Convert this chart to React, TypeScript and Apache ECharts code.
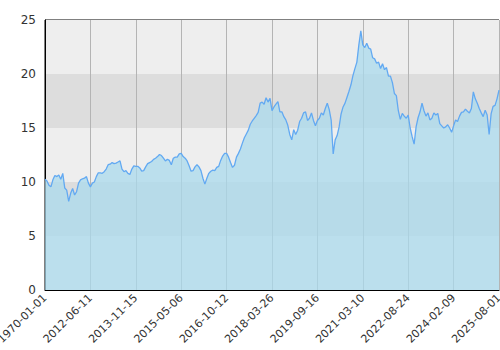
import React, { useEffect, useRef } from "react";
import * as echarts from "echarts";

const tickLabels = [
  "1970-01-01", "2012-06-11", "2013-11-15", "2015-05-06", "2016-10-12", "2018-03-26",
  "2019-09-16", "2021-03-10", "2022-08-24", "2024-02-09", "2025-08-01",
];

const labelStep = 23;

const values = [
  10.25, 10.1, 9.7, 9.55, 10.2, 10.6, 10.5, 10.65, 10.25, 10.8,
  9.45, 9.25, 8.2, 8.95, 9.4, 8.8, 9.1, 9.9, 10.2, 10.3,
  10.35, 10.5, 9.9, 9.55, 9.9, 10.0, 10.5, 10.85, 10.85, 10.8,
  10.95, 11.2, 11.6, 11.65, 11.8, 11.7, 11.75, 11.85, 11.95, 11.2,
  10.95, 11.05, 10.8, 10.7, 11.2, 11.5, 11.45, 11.45, 11.3, 11.0,
  11.05, 11.4, 11.7, 11.8, 11.9, 12.1, 12.2, 12.35, 12.55, 12.45,
  12.2, 11.95, 12.1, 12.0, 11.6, 12.2, 12.3, 12.3, 12.6, 12.65,
  12.35, 12.2, 11.95, 11.5, 11.0, 11.05, 11.4, 11.6, 11.4, 11.05,
  10.35, 9.8, 10.35, 10.8, 11.0, 11.1, 11.05, 11.35, 11.45, 12.0,
  12.4, 12.65, 12.65, 12.3, 11.8, 11.35, 11.55, 12.3, 12.65, 13.05,
  13.6, 14.1, 14.45, 14.8, 15.35, 15.65, 15.9, 16.15, 16.45, 17.3,
  17.4, 17.2, 17.8, 17.4, 17.75, 16.6, 16.95, 17.2, 17.45, 16.5,
  16.5, 16.05, 15.75, 15.25, 14.4, 13.9, 14.85, 14.4, 14.8, 15.6,
  15.9, 16.4, 16.5, 15.7, 15.9, 16.4, 15.7, 15.2, 15.7, 15.9,
  16.4, 16.2, 16.8, 17.3, 16.7, 15.7, 12.6, 13.9, 14.3, 15.1,
  16.3, 16.95, 17.3, 17.85, 18.4, 19.0, 19.85, 20.5, 21.1, 22.7,
  24.0, 22.7, 22.45, 22.85, 22.4, 22.3, 21.5, 21.4, 21.0, 21.1,
  20.5, 20.95, 20.4, 20.6, 19.8, 19.8, 19.2, 18.2, 18.0, 16.6,
  15.8, 16.35, 16.1, 15.9, 16.2, 15.0, 14.2, 13.5, 15.1, 15.95,
  16.5, 17.3, 16.6, 16.1, 16.4, 15.75, 15.9, 16.4, 16.2, 16.35,
  15.4, 15.2, 15.0, 15.1, 15.3, 15.0, 14.6, 15.2, 15.75, 15.6,
  16.1, 16.45, 16.5, 16.75, 16.55, 16.4, 16.8, 18.35, 17.7, 17.3,
  16.8, 16.4, 16.05, 16.65, 16.2, 14.4, 16.3, 17.0, 17.1, 17.7,
  18.5,
];

const categories = values.map((_, i) =>
  i % labelStep === 0 ? tickLabels[i / labelStep] ?? "" : ""
);

export default function App() {
  const ref = useRef<HTMLDivElement>(null);

  useEffect(() => {
    document.body.style.margin = "0";
    if (!ref.current) return;
    const chart = echarts.init(ref.current, null, { renderer: "svg" });
    chart.setOption({
      animation: false,
      textStyle: { fontFamily: "DejaVu Sans, sans-serif" },
      grid: {
        left: 45,
        right: 1,
        top: 20,
        bottom: 60,
        containLabel: false,
        outerBoundsMode: "none",
        show: true,
        borderColor: "#000",
        borderWidth: 1,
        backgroundColor: "transparent",
      },
      xAxis: {
        type: "category",
        data: categories,
        boundaryGap: false,
        axisLine: { show: true, lineStyle: { color: "#000", width: 1 } },
        axisTick: { show: false, interval: labelStep - 1 },
        axisLabel: {
          interval: labelStep - 1,
          rotate: 45,
          color: "#333",
          fontSize: 11,
          margin: 6,
        },
        splitLine: {
          show: true,
          interval: labelStep - 1,
          lineStyle: { color: "#b4b4b4", width: 1 },
        },
      },
      yAxis: {
        type: "value",
        min: 0,
        max: 25,
        interval: 5,
        axisLine: { show: true, lineStyle: { color: "#000", width: 1 } },
        axisTick: { show: false },
        axisLabel: { color: "#333", fontSize: 12, margin: 9 },
        splitLine: { show: false },
        splitArea: {
          show: true,
          areaStyle: { color: ["#eeeeee", "#dddddd"] },
        },
      },
      series: [
        {
          type: "line",
          data: values,
          showSymbol: false,
          symbol: "none",
          lineStyle: { color: "#62a9f2", width: 1.3 },
          itemStyle: { color: "#62a9f2" },
          areaStyle: { color: "#a9d9ec", opacity: 0.75 },
        },
      ],
    });
    return () => chart.dispose();
  }, []);

  return <div ref={ref} style={{ width: 500, height: 350 }} />;
}
